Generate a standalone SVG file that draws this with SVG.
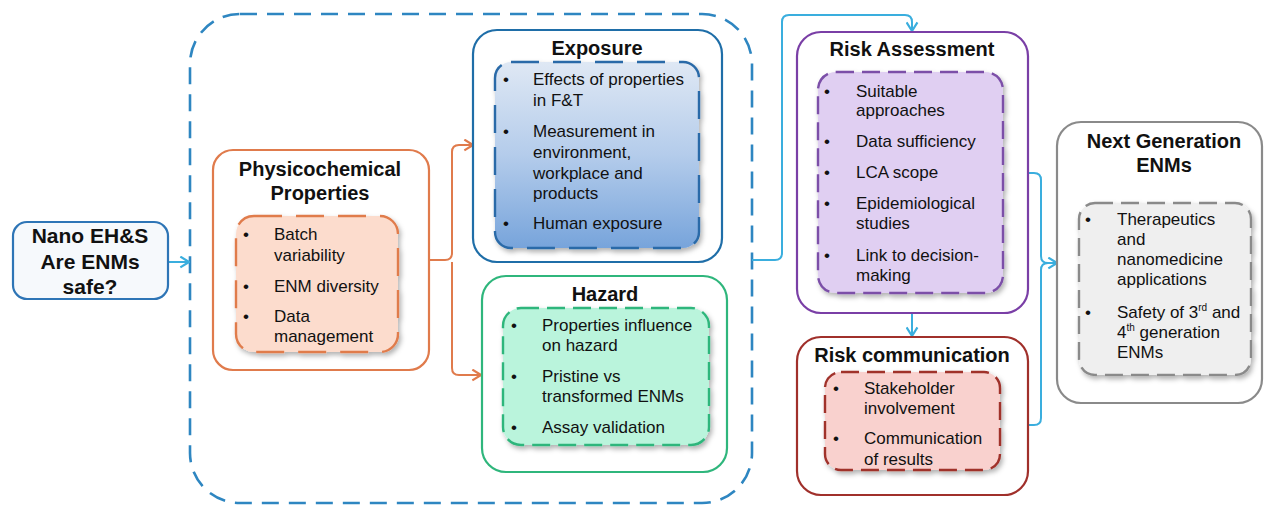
<svg xmlns="http://www.w3.org/2000/svg" width="1264" height="506" viewBox="0 0 1264 506">
  <defs>
    <style>
      text { font-family: "Liberation Sans", Arial, sans-serif; fill: #111; }
      .title { font-size: 20px; font-weight: bold; text-anchor: middle; }
      .body { font-size: 17px; }
      .bullet { font-size: 17px; }
      .sup { font-size: 10px; }
      .outer { fill: #ffffff; stroke-width: 2.2; }
      .inner { stroke-width: 2.4; stroke-dasharray: 18 8; filter: url(#shadow); }
      .inner.long { stroke-dasharray: 28 14; }
      .conn { fill: none; stroke-width: 2; stroke-linejoin: round; }
    </style>
    <linearGradient id="expoFill" x1="0" y1="0" x2="0" y2="1">
      <stop offset="0" stop-color="#dfe8f4"/>
      <stop offset="0.5" stop-color="#b4cceb"/>
      <stop offset="1" stop-color="#77a4db"/>
    </linearGradient>
    <filter id="shadow" x="-10%" y="-10%" width="125%" height="125%">
      <feDropShadow dx="2" dy="3" stdDeviation="2.5" flood-color="#000" flood-opacity="0.3"/>
    </filter>
    <marker id="arrBlue" viewBox="0 0 10 12" refX="9" refY="6" markerWidth="11" markerHeight="13" markerUnits="userSpaceOnUse" orient="auto">
      <path d="M1,1 L9,6 L1,11" fill="none" stroke="#3aaede" stroke-width="2"/>
    </marker>
    <marker id="arrOrange" viewBox="0 0 10 12" refX="9" refY="6" markerWidth="11" markerHeight="13" markerUnits="userSpaceOnUse" orient="auto">
      <path d="M1,1 L9,6 L1,11" fill="none" stroke="#e07b4c" stroke-width="2"/>
    </marker>
  </defs>

  <rect width="1264" height="506" fill="#ffffff"/>

  <!-- grouping frame around properties / exposure / hazard -->
  <g id="scope-frame">
    <rect x="190" y="14" width="562" height="489" rx="50" fill="none" stroke="#2e86c1" stroke-width="2.6" stroke-dasharray="17 10"/>
  </g>

  <!-- connectors -->
  <g id="connectors">
    <path class="conn" stroke="#3aaede" d="M168,262 H189" marker-end="url(#arrBlue)"/>
    <path class="conn" stroke="#e07b4c" d="M430,260 H445 Q452,260 452,253 V152 Q452,145 459,145 H473" marker-end="url(#arrOrange)"/>
    <path class="conn" stroke="#e07b4c" d="M452,262 V368 Q452,375 459,375 H481" marker-end="url(#arrOrange)"/>
    <path class="conn" stroke="#3aaede" d="M752,260 H775 Q782,260 782,253 V22 Q782,15 789,15 H905 Q912,15 912,22 V31" marker-end="url(#arrBlue)"/>
    <path class="conn" stroke="#3aaede" d="M912,313 V336" marker-end="url(#arrBlue)"/>
    <path class="conn" stroke="#3aaede" d="M1028,173 H1034 Q1041,173 1041,180 V256 Q1041,263 1048,263 H1057" marker-end="url(#arrBlue)"/>
    <path class="conn" stroke="#3aaede" d="M1028,425 H1034 Q1041,425 1041,418 V270 Q1041,263 1048,263"/>
  </g>

  <!-- start question -->
  <g id="nano-ehs">
    <rect x="13" y="222" width="155" height="77" rx="14" fill="#f6f9fc" stroke="#2e75b6" stroke-width="2.2"/>
    <text class="title" x="90" y="243" style="font-size:21px">Nano EH&amp;S</text>
    <text class="title" x="90" y="269" style="font-size:21px">Are ENMs</text>
    <text class="title" x="90" y="294" style="font-size:21px">safe?</text>
  </g>

  <!-- physicochemical properties -->
  <g id="physchem">
    <rect class="outer" x="213" y="150" width="216" height="220" rx="20" stroke="#e07b4c"/>
    <text class="title" x="320" y="176">Physicochemical</text>
    <text class="title" x="320" y="200">Properties</text>
    <rect class="inner long" x="236" y="216" width="162" height="136" rx="18" fill="#fcdccd" stroke="#e07b4c"/>
    <text class="bullet" x="243" y="240">•</text>
    <text class="body" x="274" y="240">Batch</text>
    <text class="body" x="274" y="261">variability</text>
    <text class="bullet" x="243" y="292">•</text>
    <text class="body" x="274" y="292">ENM diversity</text>
    <text class="bullet" x="243" y="322">•</text>
    <text class="body" x="274" y="322">Data</text>
    <text class="body" x="274" y="342">management</text>
  </g>

  <!-- exposure -->
  <g id="exposure">
    <rect class="outer" x="473" y="30" width="249" height="232" rx="24" stroke="#1f6ea8"/>
    <text class="title" x="597" y="55">Exposure</text>
    <rect class="inner long" x="495" y="62" width="204" height="186" rx="16" fill="url(#expoFill)" stroke="#2a6aa8"/>
    <text class="bullet" x="503" y="85">•</text>
    <text class="body" x="533" y="85">Effects of properties</text>
    <text class="body" x="533" y="106">in F&amp;T</text>
    <text class="bullet" x="503" y="137">•</text>
    <text class="body" x="533" y="137">Measurement in</text>
    <text class="body" x="533" y="158">environment,</text>
    <text class="body" x="533" y="179">workplace and</text>
    <text class="body" x="533" y="199">products</text>
    <text class="bullet" x="503" y="229">•</text>
    <text class="body" x="533" y="229">Human exposure</text>
  </g>

  <!-- hazard -->
  <g id="hazard">
    <rect class="outer" x="482" y="276" width="245" height="196" rx="24" stroke="#2fb67c"/>
    <text class="title" x="605" y="301">Hazard</text>
    <rect class="inner" x="503" y="308" width="206" height="137" rx="18" fill="#baf4dc" stroke="#2fb67c"/>
    <text class="bullet" x="511" y="331">•</text>
    <text class="body" x="542" y="331">Properties influence</text>
    <text class="body" x="542" y="351">on hazard</text>
    <text class="bullet" x="511" y="382">•</text>
    <text class="body" x="542" y="382">Pristine vs</text>
    <text class="body" x="542" y="402">transformed ENMs</text>
    <text class="bullet" x="511" y="433">•</text>
    <text class="body" x="542" y="433">Assay validation</text>
  </g>

  <!-- risk assessment -->
  <g id="risk-assessment">
    <rect class="outer" x="797" y="32" width="231" height="281" rx="24" stroke="#7a3fa6"/>
    <text class="title" x="912" y="56">Risk Assessment</text>
    <rect class="inner" x="818" y="72" width="185" height="221" rx="18" fill="#e0cff2" stroke="#7b4fa8"/>
    <text class="bullet" x="824" y="97">•</text>
    <text class="body" x="856" y="97">Suitable</text>
    <text class="body" x="856" y="116">approaches</text>
    <text class="bullet" x="824" y="147">•</text>
    <text class="body" x="856" y="147">Data sufficiency</text>
    <text class="bullet" x="824" y="178">•</text>
    <text class="body" x="856" y="178">LCA scope</text>
    <text class="bullet" x="824" y="209">•</text>
    <text class="body" x="856" y="209">Epidemiological</text>
    <text class="body" x="856" y="229">studies</text>
    <text class="bullet" x="824" y="261">•</text>
    <text class="body" x="856" y="261">Link to decision-</text>
    <text class="body" x="856" y="281">making</text>
  </g>

  <!-- risk communication -->
  <g id="risk-communication">
    <rect class="outer" x="797" y="337" width="231" height="158" rx="24" stroke="#a0302b"/>
    <text class="title" x="912" y="362">Risk communication</text>
    <rect class="inner" x="825" y="372" width="175" height="98" rx="16" fill="#f9d1ce" stroke="#a0302b"/>
    <text class="bullet" x="833" y="394">•</text>
    <text class="body" x="864" y="394">Stakeholder</text>
    <text class="body" x="864" y="414">involvement</text>
    <text class="bullet" x="833" y="444">•</text>
    <text class="body" x="864" y="444">Communication</text>
    <text class="body" x="864" y="465">of results</text>
  </g>

  <!-- next generation ENMs -->
  <g id="next-generation">
    <rect class="outer" x="1057" y="122" width="205" height="281" rx="24" stroke="#8a8a8a"/>
    <text class="title" x="1164" y="148">Next Generation</text>
    <text class="title" x="1164" y="172">ENMs</text>
    <rect class="inner" x="1079" y="203" width="172" height="172" rx="16" fill="#efefef" stroke="#8a8a8a"/>
    <text class="bullet" x="1085" y="225">•</text>
    <text class="body" x="1117" y="225">Therapeutics</text>
    <text class="body" x="1117" y="245">and</text>
    <text class="body" x="1117" y="265">nanomedicine</text>
    <text class="body" x="1117" y="285">applications</text>
    <text class="bullet" x="1085" y="318">•</text>
    <text class="body" x="1117" y="318">Safety of 3<tspan class="sup" dy="-7">rd</tspan><tspan dy="7"> and</tspan></text>
    <text class="body" x="1117" y="338">4<tspan class="sup" dy="-7">th</tspan><tspan dy="7"> generation</tspan></text>
    <text class="body" x="1117" y="358">ENMs</text>
  </g>
</svg>
